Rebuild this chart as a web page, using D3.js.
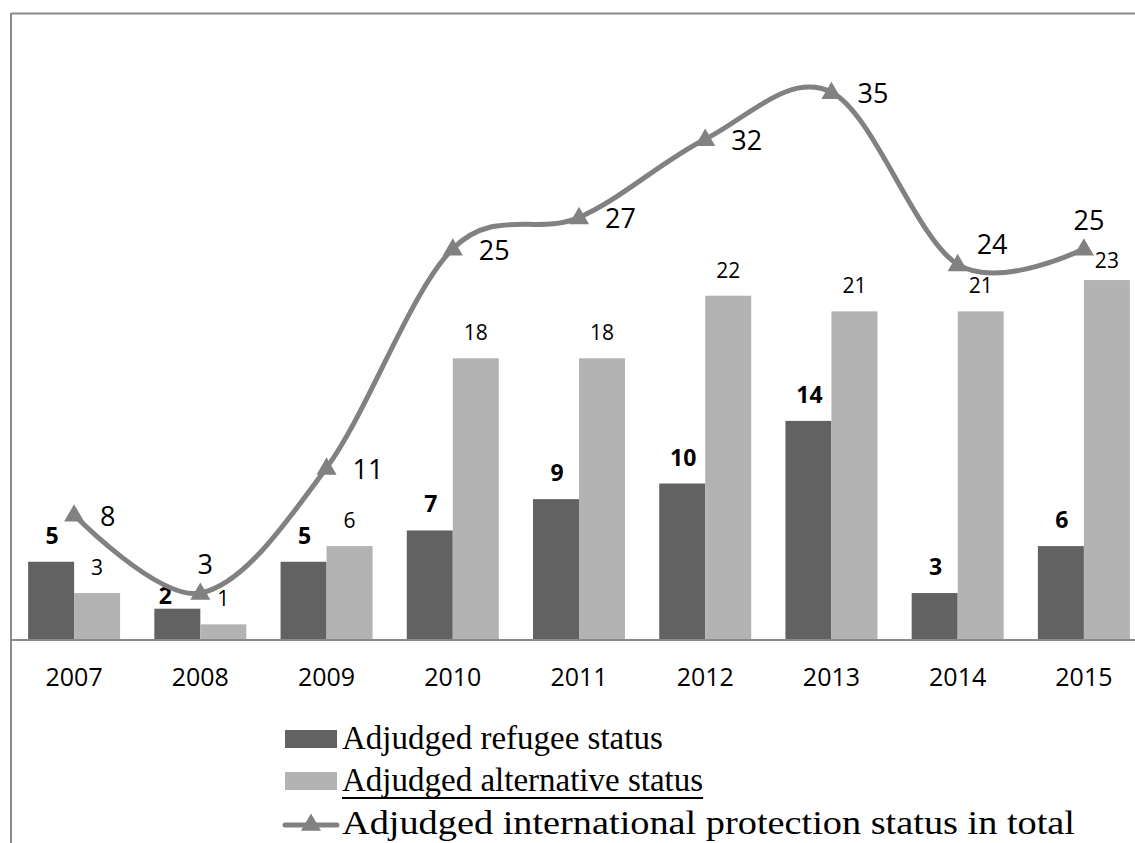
<!DOCTYPE html>
<html>
<head>
<meta charset="utf-8">
<script src="https://cdn.jsdelivr.net/npm/d3@7"></script>
<style>
  body { margin: 0; background: #fff; }
  svg { display: block; }
</style>
</head>
<body>
<div id="chart"></div>
<script>
// data
var years = ["2007", "2008", "2009", "2010", "2011", "2012", "2013", "2014", "2015"];
var refugee = [5, 2, 5, 7, 9, 10, 14, 3, 6];
var alternative = [3, 1, 6, 18, 18, 22, 21, 21, 23];
var total = [8, 3, 11, 25, 27, 32, 35, 24, 25];
var seriesNames = ["Adjudged refugee status", "Adjudged alternative status", "Adjudged international protection status in total"];
// where the labels of the total line sit relative to their marker
var totalLabelPlace = ["right", "above", "right", "right", "right", "right", "right", "upright", "above"];

var width = 1135;
var height = 843;
var darkColor = "#626262";
var lightColor = "#b3b3b3";
var lineColor = "#818181";
var numFont = "'Open Sans', 'DejaVu Sans', sans-serif";
var serifFont = "'Liberation Serif', 'DejaVu Serif', serif";

var svg = d3.select("#chart")
    .append("svg")
    .attr("width", width)
    .attr("height", height);

// frame (only the top and left edges show in the picture)
svg.append("line")
    .attr("x1", 11).attr("y1", 13.5).attr("x2", width).attr("y2", 13.5)
    .attr("stroke", "#8a8a8a").attr("stroke-width", 2);
svg.append("line")
    .attr("x1", 11).attr("y1", 13).attr("x2", 11).attr("y2", height)
    .attr("stroke", "#8a8a8a").attr("stroke-width", 2);

var x = d3.scaleBand()
    .domain(years)
    .range([11, 1147])
    .padding(0);

var xInner = d3.scaleBand()
    .domain(["refugee", "alternative"])
    .range([0, x.bandwidth()])
    .paddingInner(0)
    .paddingOuter(0.372);

var y = d3.scaleLinear()
    .domain([0, 40])
    .range([640, 14]);

var rows = years.map(function(yr, i) {
    return { year: yr, i: i, refugee: refugee[i], alternative: alternative[i], total: total[i] };
});

// bars
var groups = svg.append("g")
    .selectAll("g")
    .data(rows)
    .enter()
    .append("g")
    .attr("transform", (d) => "translate(" + x(d.year) + ",0)");

groups.append("rect")
    .attr("x", xInner("refugee"))
    .attr("y", (d) => y(d.refugee))
    .attr("width", xInner.bandwidth())
    .attr("height", (d) => y(0) - y(d.refugee))
    .attr("fill", darkColor);

groups.append("rect")
    .attr("x", xInner("alternative"))
    .attr("y", (d) => y(d.alternative))
    .attr("width", xInner.bandwidth())
    .attr("height", (d) => y(0) - y(d.alternative))
    .attr("fill", lightColor);

// x axis
var xAxis = d3.axisBottom(x).tickSize(0).tickPadding(0);
var axisG = svg.append("g")
    .attr("transform", "translate(0," + y(0) + ")")
    .call(xAxis);
axisG.select(".domain").remove();
axisG.selectAll("text")
    .attr("y", 46)
    .attr("dy", 0)
    .attr("font-family", numFont)
    .attr("font-size", 25)
    .attr("fill", "#000");
svg.append("line")
    .attr("x1", 11).attr("x2", width)
    .attr("y1", y(0)).attr("y2", y(0))
    .attr("stroke", "#8a8a8a").attr("stroke-width", 2);

// bar labels
groups.append("text")
    .attr("x", (d) => xInner("refugee") + xInner.bandwidth() / 2 + (d.year === "2008" ? -12 : 1))
    .attr("y", (d) => y(d.refugee) - (d.year === "2008" ? 5 : 18))
    .attr("text-anchor", "middle")
    .attr("font-family", numFont)
    .attr("font-weight", "bold")
    .attr("font-size", 23)
    .attr("fill", "#000")
    .text((d) => d.refugee);

groups.append("text")
    .attr("x", (d) => xInner("alternative") + xInner.bandwidth() / 2)
    .attr("y", (d) => y(d.alternative) - (d.year === "2015" ? 12 : 18))
    .attr("text-anchor", "middle")
    .attr("font-family", numFont)
    .attr("font-size", 21)
    .attr("fill", "#000")
    .text((d) => d.alternative);

// total line
var cx = (d) => x(d.year) + x.bandwidth() / 2;
var line = d3.line()
    .x(cx)
    .y((d) => y(d.total))
    .curve(d3.curveCardinal.tension(0));

svg.append("path")
    .datum(rows)
    .attr("d", line)
    .attr("fill", "none")
    .attr("stroke", lineColor)
    .attr("stroke-width", 5)
    .attr("stroke-linecap", "round");

var tri = d3.symbol().type(d3.symbolTriangle).size(175);
svg.append("g")
    .selectAll("path")
    .data(rows)
    .enter()
    .append("path")
    .attr("d", tri)
    .attr("transform", (d) => "translate(" + cx(d) + "," + (y(d.total) + 1) + ")")
    .attr("fill", lineColor);

svg.append("g")
    .selectAll("text")
    .data(rows)
    .enter()
    .append("text")
    .attr("x", function(d) {
        var p = totalLabelPlace[d.i];
        if (p === "above") return cx(d) + 5;
        if (p === "upright") return cx(d) + 19;
        return cx(d) + 26;
    })
    .attr("y", function(d) {
        var p = totalLabelPlace[d.i];
        if (p === "above") return y(d.total) - 19;
        if (p === "upright") return y(d.total) - 10;
        return y(d.total) + 11;
    })
    .attr("text-anchor", (d) => totalLabelPlace[d.i] === "above" ? "middle" : "start")
    .attr("font-family", numFont)
    .attr("font-size", 27)
    .attr("fill", "#000")
    .text((d) => d.total);

// legend
var legend = svg.append("g");
var legendY = [739, 781, 824];

legend.append("rect")
    .attr("x", 285).attr("y", legendY[0] - 9)
    .attr("width", 52).attr("height", 18)
    .attr("fill", darkColor);
legend.append("rect")
    .attr("x", 285).attr("y", legendY[1] - 9)
    .attr("width", 52).attr("height", 18)
    .attr("fill", lightColor);
legend.append("line")
    .attr("x1", 285).attr("x2", 337)
    .attr("y1", legendY[2] + 1).attr("y2", legendY[2] + 1)
    .attr("stroke", lineColor).attr("stroke-width", 5)
    .attr("stroke-linecap", "round");
legend.append("path")
    .attr("d", tri)
    .attr("transform", "translate(311," + (legendY[2] + 1) + ")")
    .attr("fill", lineColor);

var legendText = legend.selectAll("text")
    .data(seriesNames)
    .enter()
    .append("text")
    .attr("x", 342)
    .attr("y", (d, i) => legendY[i] + 10)
    .attr("font-family", serifFont)
    .attr("font-size", 33)
    .attr("fill", "#000")
    .text((d) => d);

// the last entry is drawn wider in the original, ending near the right edge
var lastText = legendText.nodes()[2];
if (lastText.getComputedTextLength() < 733) {
    d3.select(lastText)
        .attr("textLength", 733)
        .attr("lengthAdjust", "spacingAndGlyphs");
}

// underline under the second entry
var w2 = legendText.nodes()[1].getComputedTextLength();
legend.append("line")
    .attr("x1", 342).attr("x2", 342 + w2)
    .attr("y1", legendY[1] + 17).attr("y2", legendY[1] + 17)
    .attr("stroke", "#000").attr("stroke-width", 2);
</script>
</body>
</html>
